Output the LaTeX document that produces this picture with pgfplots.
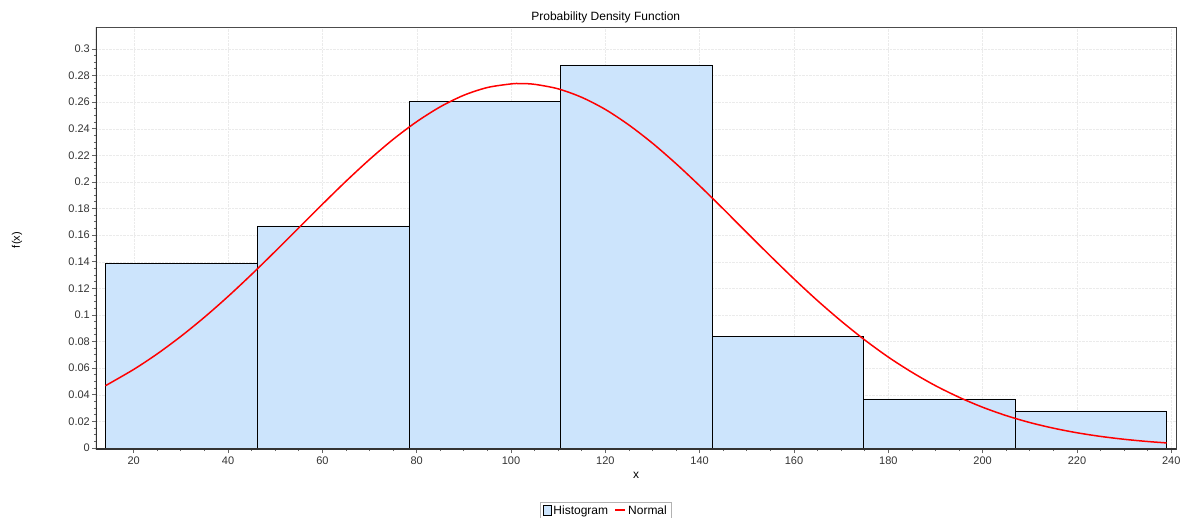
\documentclass[border=0pt]{standalone}
\usepackage{fontspec}
\setmainfont{Liberation Sans}
\usepackage{pgfplots}
\pgfplotsset{compat=1.18}
\definecolor{barfill}{RGB}{204,228,252}
\definecolor{txt}{RGB}{51,51,51}
\begin{document}
\begin{tikzpicture}[font=\fontsize{11}{13}\selectfont]
\begin{axis}[
  scale only axis, width=1080pt, height=422pt,
  xmin=12, xmax=241, ymin=-0.0008, ymax=0.3165,
  xtick={20,40,60,80,100,120,140,160,180,200,220,240},
  ytick={0,0.02,0.04,0.06,0.08,0.1,0.12,0.14,0.16,0.18,0.2,0.22,0.24,0.26,0.28,0.3},
  minor x tick num=3, minor y tick num=3,
  tick pos=left,
  tick align=outside, major tick length=4pt, minor tick length=2pt,
  tick style={black!60, line width=0.8pt},
  xticklabel style={text=txt, font=\fontsize{11}{13}\selectfont},
  yticklabel style={text=txt, font=\fontsize{11}{13}\selectfont, inner sep=2pt,
    /pgf/number format/fixed, /pgf/number format/precision=2},
  /pgf/number format/assume math mode=true,
  grid=major, major grid style={densely dotted, black!8},
  axis line style={black!70, line width=0.8pt},
  clip=true,
  title={Probability Density Function},
  title style={at={(axis description cs:0.472,1.0094)}, anchor=center, yshift=0pt, font=\fontsize{12}{14}\selectfont},
  xlabel={x},
  xlabel style={at={(axis description cs:0.5,-0.0616)}, anchor=center, font=\fontsize{12}{14}\selectfont},
  ylabel={f(x)},
  ylabel style={at={(axis description cs:-0.0731,0.495)}, anchor=center, font=\fontsize{11}{13}\selectfont},
  legend columns=2,
  legend style={at={(axis description cs:0.472,-0.1256)}, anchor=north, draw=black!30,
    font=\fontsize{12}{14}\selectfont, inner xsep=2pt, inner ysep=1.5pt,
    /tikz/every even column/.append style={column sep=4pt}},
  legend cell align=left,
]
\addplot[ybar interval, fill=barfill, draw=black, line width=0.8pt,
  legend image code/.code={\draw[fill=barfill, draw=black, line width=0.8pt] (0pt,-5pt) rectangle (8pt,5pt);}] coordinates {
  (14.06,0.139) (46.2,0.1669) (78.35,0.2602) (110.5,0.288) (142.65,0.0835)
  (174.8,0.0368) (206.95,0.0278) (239.06,0.0278)};
\addlegendentry{Histogram}
\addplot[red, line width=1.5pt, smooth,
  legend image code/.code={\draw[red, line width=2pt] (0pt,0.5pt) -- (10pt,0.5pt);}] coordinates {
  (14,0.04677) (20,0.05905) (25,0.07077) (30,0.0839) (35,0.0983) (40,0.1139)
  (45,0.1305) (50,0.1478) (55,0.1655) (60,0.1832) (65,0.2005) (70,0.2169)
  (75,0.2320) (80,0.2453) (85,0.2565) (90,0.2652) (95,0.2710) (100,0.2737)
  (102,0.2740) (105,0.2734) (110,0.2700) (115,0.2636) (120,0.2545) (125,0.2428)
  (130,0.2291) (135,0.2137) (140,0.1971) (145,0.1797) (150,0.1619) (155,0.1443)
  (160,0.1271) (165,0.1107) (170,0.0954) (175,0.0812) (180,0.0683) (185,0.0569)
  (190,0.0468) (195,0.0381) (200,0.0306) (205,0.0243) (210,0.0191) (215,0.01486)
  (220,0.01141) (225,0.00867) (230,0.00651) (235,0.00483) (239,0.00378)};
\addlegendentry{Normal}
\draw[line width=2pt, black!80] (rel axis cs:0,1) -- (rel axis cs:0,0) -- (rel axis cs:1,0);
\draw[line width=1pt, black] (rel axis cs:1,0) -- (rel axis cs:1,1);
\end{axis}
\pgfresetboundingbox
\path[use as bounding box] ([shift={(-96pt,-68pt)}]current axis.south west) rectangle ([shift={(8pt,27pt)}]current axis.north east);
\end{tikzpicture}
\end{document}
